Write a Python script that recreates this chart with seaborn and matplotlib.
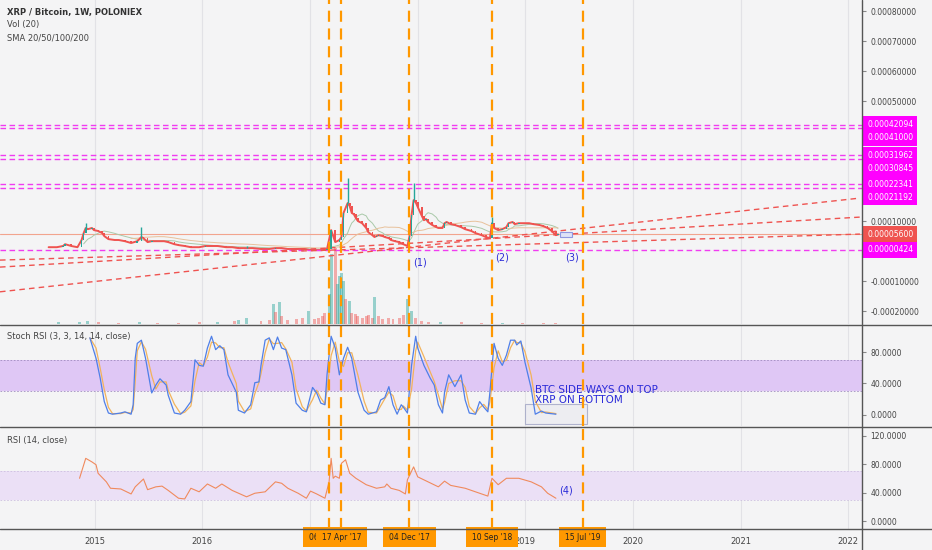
import numpy as np
import pandas as pd
import matplotlib
matplotlib.use("Agg")
import matplotlib.pyplot as plt
import matplotlib.transforms as mtransforms
from matplotlib.lines import Line2D
from matplotlib.patches import Rectangle
from matplotlib.ticker import FixedLocator, FuncFormatter
import seaborn as sns

# first weekly candle of XRP/BTC on Poloniex, everything else is weeks after it
START = pd.Timestamp("2014-07-28")

# weekly closes (satoshi)
price_week = [0, 4, 7, 8, 11, 14, 16, 17, 18, 19, 21, 22, 24, 26, 27, 29, 32, 34, 37, 40,
              43, 45, 46, 48, 50, 53, 56, 58, 61, 63, 66, 69, 73, 76, 80, 82, 86, 89, 92, 96,
              99, 103, 107, 110, 113, 116, 120, 124, 127, 130, 133, 135, 137, 139, 141, 142, 143, 145, 146, 147,
              148, 149, 150, 152, 154, 155, 157, 158, 159, 160, 162, 163, 165, 166, 168, 170, 172, 174, 175, 176,
              177, 178, 179, 181, 182, 183, 184, 186, 188, 189, 191, 192, 193, 195, 197, 200, 202, 205, 207, 210,
              212, 214, 215, 216, 218, 220, 222, 223, 225, 226, 228, 230, 233, 235, 238, 240, 242, 244, 246, 247]
price_close = [1300, 1300, 1700, 2300, 1700, 1300, 3700, 6000, 7700, 7300, 7700, 7000, 6700, 6000, 5000, 4000, 3700, 3700, 3300, 2700,
               3300, 4700, 4300, 3000, 3300, 3300, 3300, 3000, 2300, 2000, 1700, 1300, 1300, 1700, 1700, 1700, 1300, 1300, 1000, 1000,
               1000, 700, 700, 1000, 1000, 700, 700, 700, 330, 330, 330, 700, 7000, 3000, 3700, 4700, 12700, 16000, 15000, 12700,
               12300, 11000, 10000, 9300, 7700, 6300, 5300, 4700, 5000, 5300, 5000, 4700, 4300, 3700, 3300, 3000, 2300, 1700, 5000, 12000,
               17000, 16300, 14700, 11700, 10300, 10700, 9700, 8700, 8000, 7700, 7700, 9300, 9700, 9000, 8700, 8000, 7300, 6700, 6000, 5300,
               4700, 4300, 9300, 7700, 7000, 7300, 8000, 9300, 9700, 9000, 9300, 9300, 9300, 9000, 8700, 8300, 7700, 6700, 5300, 5600]
wick_week = [18, 45, 96, 145, 177, 215]
wick_high = [9300, 8000, 1700, 24300, 22700, 11300]

# volume (arbitrary units), 1 = up week, 0 = down week
vol_week = [5, 15, 19, 24, 34, 44, 53, 63, 73, 82, 90, 92, 96, 103, 107, 109, 110, 112, 113, 116,
            120, 123, 126, 129, 131, 133, 134, 136, 137, 139, 140, 141, 142, 143, 144, 146, 147, 149, 150, 152,
            154, 155, 157, 158, 160, 162, 165, 167, 170, 172, 174, 176, 178, 181, 184, 190, 200, 210, 215, 220,
            230, 240, 246]
vol_value = [2, 2, 3, 2, 1, 2, 1, 1, 2, 2, 3, 4, 6, 3, 4, 20, 12, 22, 8, 4,
             5, 6, 13, 5, 6, 8, 11, 30, 70, 76, 40, 48, 51, 43, 25, 23, 11, 10, 8, 6,
             8, 9, 6, 27, 8, 5, 6, 5, 6, 9, 25, 13, 6, 3, 2, 2, 2, 1, 3, 1,
             1, 1, 1]
vol_up = [1, 1, 1, 0, 0, 1, 0, 0, 0, 1, 0, 1, 1, 0, 0, 1, 0, 1, 0, 0,
          0, 0, 1, 0, 0, 0, 0, 1, 1, 0, 1, 1, 1, 1, 0, 1, 0, 0, 0, 0,
          0, 0, 0, 1, 0, 0, 0, 0, 0, 0, 1, 1, 0, 0, 0, 1, 0, 0, 1, 1,
          0, 0, 0]

# Stoch RSI %K
stoch_week = [20, 23, 25, 27, 29, 31, 35, 37, 40, 41, 42, 43, 45, 47, 50, 52, 54, 57, 58, 61,
              64, 66, 69, 71, 73, 75, 77, 79, 81, 83, 85, 87, 91, 92, 95, 98, 100, 102, 103, 105,
              107, 109, 111, 113, 115, 118, 120, 123, 125, 128, 130, 132, 134, 135, 137, 139, 141, 143, 145, 147,
              150, 153, 155, 159, 161, 163, 165, 167, 169, 171, 172, 174, 176, 178, 179, 182, 185, 187, 189, 191,
              192, 194, 197, 200, 202, 204, 207, 209, 211, 213, 214, 216, 218, 220, 222, 224, 226, 227, 229, 231,
              234, 236, 239, 241, 246]
stoch_k = [98, 72, 47, 17, 2.5, 1, 2.5, 4, 1, 13, 72, 91, 95, 72, 28, 38, 46, 38, 25, 2.5,
           1, 6, 17, 70, 63, 62, 85, 100, 83, 88, 83, 51, 29, 6, 2.5, 13, 41, 42, 63, 95,
           98, 83, 99, 85, 83, 51, 15, 6, 4, 35, 28, 15, 13, 51, 100, 85, 51, 72, 86, 72,
           29, 6, 1, 4, 19, 22, 36, 13, 1, 13, 10, 2.5, 63, 100, 85, 63, 47, 38, 13, 2.5,
           29, 51, 36, 51, 19, 2.5, 1, 17, 10, 4, 29, 91, 72, 63, 76, 95, 95, 89, 94, 67,
           34, 1, 5, 2.5, 1]

# RSI (14)
rsi_week = [15, 18, 21, 23, 24, 28, 30, 35, 40, 42, 46, 48, 52, 55, 58, 63, 66, 69, 73, 77,
            81, 84, 89, 96, 100, 105, 110, 113, 116, 121, 125, 127, 130, 134, 136, 137, 138, 139, 141, 142,
            144, 146, 149, 154, 159, 163, 164, 166, 170, 173, 174, 177, 179, 184, 189, 192, 195, 202, 207, 213,
            215, 218, 222, 228, 234, 239, 242, 246]
rsi_value = [60, 88, 83, 79, 67, 55, 46, 45, 38, 48, 59, 44, 48, 49, 43, 32, 31, 46, 41, 52,
             46, 52, 43, 34, 39, 41, 55, 53, 46, 39, 32, 42, 38, 32, 55, 88, 60, 63, 60, 81,
             86, 67, 60, 51, 46, 48, 52, 46, 43, 38, 58, 76, 62, 55, 48, 56, 50, 46, 41, 35,
             60, 51, 60, 60, 55, 48, 39, 32]

# horizontal levels drawn on the chart (BTC)
levels = [0.00042094, 0.00041000, 0.00031962, 0.00030845, 0.00022341, 0.00021192, 0.00000424]
last_price = 0.00005600

# trend lines (start/end date, start/end price)
trend_start = "2014-02-13"
trend_end = "2022-02-10"
trend_p0 = [-0.0001357, -0.0000533, -0.0000300]
trend_p1 = [0.0001767, 0.0001133, 0.0000567]

event_dates = ["2017-03-06", "2017-04-17", "2017-12-04", "2018-09-10", "2019-07-15"]
event_labels = ["06 Mar '17", "17 Apr '17", "04 Dec '17", "10 Sep '18", "15 Jul '19"]

wave_labels = ["(1)", "(2)", "(3)"]
wave_week = [180, 220, 254]
wave_price = [-0.0000367, -0.0000230, -0.0000230]

price_ticks = [0.0008, 0.0007, 0.0006, 0.0005, 0.0001, -0.0001, -0.0002]
osc_ticks = [0, 40, 80]
rsi_ticks = [0, 40, 80, 120]
grid_years = ["2015", "2016", "2017", "2018", "2019", "2020", "2021", "2022"]
year_ticks = ["2015", "2016", "2019", "2020", "2021", "2022"]  # 2017/2018 sit under the date boxes

BG = "#f4f4f5"
GREEN = "#26a69a"
RED = "#ef5350"
MAGENTA = "#f03cf0"
ORANGE = "#ff9800"
TXT = "#444444"
BLUE_TXT = "#2b2bd9"


def to_dates(weeks):
    return START + pd.to_timedelta(np.asarray(weeks) * 7, unit="D")


sns.set_style("white")
plt.rcParams["font.family"] = ["DejaVu Sans"]

W, H = 932, 550
fig = plt.figure(figsize=(W / 100, H / 100), dpi=100, facecolor=BG)


def frac(x0, y0, x1, y1):
    return [x0 / W, 1 - y1 / H, (x1 - x0) / W, (y1 - y0) / H]


ax_v = fig.add_axes(frac(0, 0, 862, 324))
ax_p = fig.add_axes(frac(0, 0, 862, 324), sharex=ax_v)
ax_s = fig.add_axes(frac(0, 325, 862, 426), sharex=ax_v)
ax_r = fig.add_axes(frac(0, 427, 862, 529), sharex=ax_v)

x0, x1 = pd.Timestamp("2014-02-13"), pd.Timestamp("2022-02-17")
years = pd.to_datetime([f"{y}-01-01" for y in grid_years])

for ax in (ax_v, ax_p, ax_s, ax_r):
    ax.patch.set_visible(False)
    for s in ax.spines.values():
        s.set_visible(False)
    ax.set_xlim(x0, x1)
    for yr in years:
        ax.axvline(yr, color="#e2e2e6", lw=0.8, zorder=0)

# volume
vd = to_dates(vol_week)
vcol = [GREEN if u else RED for u in vol_up]
ax_v.bar(vd, vol_value, width=10, color=vcol, alpha=0.45, linewidth=0)
ax_v.set_ylim(0, 326)
ax_v.set_yticks([])
ax_v.tick_params(bottom=False, labelbottom=False)

# price
pdates = to_dates(price_week)
close = np.array(price_close) / 1e8
prev = np.r_[close[0], close[:-1]]
gap = np.r_[7, np.diff(np.array(price_week)) * 7]
sma_a = pd.Series(close).rolling(8).mean()
sma_b = pd.Series(close).rolling(20).mean()
sns.lineplot(x=pdates, y=sma_a, color="#a9c9a9", lw=0.7, ax=ax_p, estimator=None)
sns.lineplot(x=pdates, y=sma_b, color="#e8c19b", lw=0.7, ax=ax_p, estimator=None)
sns.lineplot(x=pdates, y=close, color=RED, lw=1.4, ax=ax_p, estimator=None)
up = close >= prev
ax_p.bar(pdates, np.abs(close - prev), bottom=np.minimum(close, prev), width=np.minimum(gap, 7) * 0.8,
         color=np.where(up, GREEN, RED), linewidth=0, zorder=3)
wd = to_dates(wick_week)
wbase = np.interp(np.array(wick_week), np.array(price_week), close)
ax_p.vlines(wd, wbase, np.array(wick_high) / 1e8, color=GREEN, lw=1, zorder=3)

ax_p.axhline(last_price, color="#f2a48e", lw=0.8, zorder=1)
for lv in levels:
    ax_p.axhline(lv, color=MAGENTA, lw=1, dashes=(4, 2.5), zorder=2)
for a, b in zip(trend_p0, trend_p1):
    ax_p.plot(pd.to_datetime([trend_start, trend_end]), [a, b], color=RED, lw=1,
              dashes=(4, 3), zorder=2)

rect_d = to_dates([248, 254])
ax_p.add_patch(Rectangle((rect_d[0], 0.000047), rect_d[1] - rect_d[0], 0.000016,
                         facecolor="#dfe3f7", edgecolor="#8f97e0", lw=0.8, zorder=4))
for lab, wk, pv in zip(wave_labels, wave_week, wave_price):
    ax_p.text(to_dates([wk])[0], pv, lab, color=BLUE_TXT, fontsize=7, ha="center", va="center")

ax_p.set_ylim(-0.000243, 0.000837)
ax_p.yaxis.tick_right()
ax_p.yaxis.set_major_locator(FixedLocator(price_ticks))
ax_p.yaxis.set_major_formatter(FuncFormatter(lambda v, p: f"{v:.8f}"))
ax_p.tick_params(axis="y", labelsize=5.5, labelcolor=TXT, color="#888888", length=3, pad=3)
ax_p.tick_params(axis="x", bottom=False, labelbottom=False)
ax_p.set_xlabel("")
ax_p.set_ylabel("")

# level labels on the price scale
lab_tr = mtransforms.blended_transform_factory(ax_p.transAxes, ax_p.transData)
boxes = [(levels[0], levels[1]), (levels[2], levels[3]), (levels[4], levels[5])]
for hi, lo in boxes:
    ax_p.annotate(f"{hi:.8f}", (1.0, hi), xycoords=lab_tr, xytext=(5, 0), textcoords="offset pixels",
                  va="center", ha="left", fontsize=5.5, color="white", annotation_clip=False,
                  bbox=dict(boxstyle="square,pad=0.5", fc="#ff00ff", ec="none"))
    ax_p.annotate(f"{lo:.8f}", (1.0, hi), xycoords=lab_tr, xytext=(5, -13), textcoords="offset pixels",
                  va="center", ha="left", fontsize=5.5, color="white", annotation_clip=False,
                  bbox=dict(boxstyle="square,pad=0.5", fc="#ff00ff", ec="none"))
ax_p.annotate(f"{last_price:.8f}", (1.0, last_price), xycoords=lab_tr, xytext=(5, 0),
              textcoords="offset pixels", va="center", ha="left", fontsize=5.5, color="white",
              annotation_clip=False, bbox=dict(boxstyle="square,pad=0.5", fc="#ef5350", ec="none"))
ax_p.annotate(f"{levels[6]:.8f}", (1.0, levels[6]), xycoords=lab_tr, xytext=(5, 0),
              textcoords="offset pixels", va="center", ha="left", fontsize=5.5, color="white",
              annotation_clip=False, bbox=dict(boxstyle="square,pad=0.5", fc="#ff00ff", ec="none"))

# stoch rsi
sd = to_dates(stoch_week)
k = pd.Series(stoch_k)
d = k.rolling(2, min_periods=1).mean()
ax_s.axhspan(30, 70, color="#dfc7f5", lw=0, zorder=0)
for lv in (30, 70):
    ax_s.axhline(lv, color="#a08cc0", lw=0.6, dashes=(2, 2))
sns.lineplot(x=sd, y=d, color="#f2b35c", lw=0.9, ax=ax_s, estimator=None)
sns.lineplot(x=sd, y=k, color="#4f7fe8", lw=0.9, ax=ax_s, estimator=None)
bx = to_dates([231, 261])
ax_s.add_patch(Rectangle((bx[0], -11), bx[1] - bx[0], 25, facecolor="#ececf1",
                         edgecolor="#a0a4c4", lw=0.8, zorder=1, alpha=0.8))
ax_s.text(to_dates([236])[0], 32, "BTC SIDE WAYS ON TOP", color=BLUE_TXT, fontsize=7.5, va="center")
ax_s.text(to_dates([236])[0], 19, "XRP ON BOTTOM", color=BLUE_TXT, fontsize=7.5, va="center")
ax_s.set_ylim(-14, 114.3)
ax_s.yaxis.tick_right()
ax_s.yaxis.set_major_locator(FixedLocator(osc_ticks))
ax_s.yaxis.set_major_formatter(FuncFormatter(lambda v, p: f"{v:.4f}"))
ax_s.tick_params(axis="y", labelsize=5.5, labelcolor=TXT, color="#888888", length=3, pad=3)
ax_s.tick_params(axis="x", bottom=False, labelbottom=False)
ax_s.set_xlabel("")
ax_s.set_ylabel("")

# rsi
rd = to_dates(rsi_week)
ax_r.axhspan(30, 70, color="#ebe0f6", lw=0, zorder=0)
for lv in (30, 70):
    ax_r.axhline(lv, color="#cdbfe0", lw=0.6, dashes=(2, 2))
sns.lineplot(x=rd, y=rsi_value, color="#f08a5d", lw=0.8, ax=ax_r, estimator=None)
ax_r.text(to_dates([251])[0], 43.5, "(4)", color=BLUE_TXT, fontsize=7, ha="center", va="center")
ax_r.set_ylim(-11.2, 132)
ax_r.yaxis.tick_right()
ax_r.yaxis.set_major_locator(FixedLocator(rsi_ticks))
ax_r.yaxis.set_major_formatter(FuncFormatter(lambda v, p: f"{v:.4f}"))
ax_r.tick_params(axis="y", labelsize=5.5, labelcolor=TXT, color="#888888", length=3, pad=3)
ax_r.set_xticks(pd.to_datetime([f"{y}-01-01" for y in year_ticks]))
ax_r.set_xticklabels(year_ticks)
ax_r.tick_params(axis="x", labelsize=6, labelcolor=TXT, color="#888888", length=3, pad=3)
ax_r.set_xlabel("")
ax_r.set_ylabel("")

# event lines and date boxes
for ax in (ax_p, ax_s, ax_r):
    for ed in event_dates:
        ax.axvline(pd.Timestamp(ed), color=ORANGE, lw=1.6, dashes=(5, 3), zorder=5)
box_tr = mtransforms.blended_transform_factory(ax_r.transData, fig.transFigure)
for ed, lab in zip(event_dates, event_labels):
    ax_r.text(pd.Timestamp(ed), 1 - 537 / H, lab, transform=box_tr, ha="center", va="center",
              fontsize=5.5, color="#222222", clip_on=False, zorder=20,
              bbox=dict(boxstyle="square,pad=0.75", fc=ORANGE, ec="none"))

# panel separators and the price scale border
for yy in (324.5, 426.5, 529):
    fig.add_artist(Line2D([0, 1], [1 - yy / H, 1 - yy / H], transform=fig.transFigure,
                          color="#555555", lw=1))
fig.add_artist(Line2D([862 / W, 862 / W], [0, 1], transform=fig.transFigure, color="#555555", lw=1))

# legends / titles
fig.text(7 / W, 1 - 12 / H, "XRP / Bitcoin, 1W, POLONIEX", fontsize=6, fontweight="bold",
         color="#333333", va="center")
fig.text(7 / W, 1 - 25 / H, "Vol (20)", fontsize=6, color=TXT, va="center")
fig.text(7 / W, 1 - 38 / H, "SMA 20/50/100/200", fontsize=6, color=TXT, va="center")
fig.text(7 / W, 1 - 336 / H, "Stoch RSI (3, 3, 14, 14, close)", fontsize=6, color=TXT, va="center")
fig.text(7 / W, 1 - 440 / H, "RSI (14, close)", fontsize=6, color=TXT, va="center")

fig.savefig("out.png", dpi=100, facecolor=BG)
plt.close(fig)
